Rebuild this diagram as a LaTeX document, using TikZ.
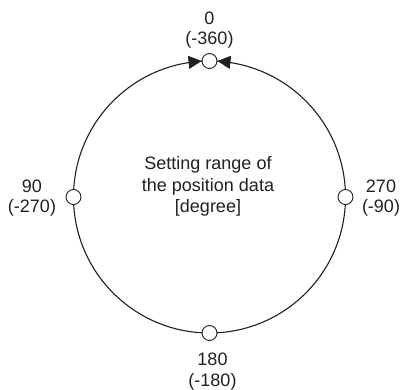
\documentclass[tikz,border=0pt]{standalone}
\usepackage{fontspec}
\setmainfont{Liberation Sans}
\usetikzlibrary{arrows.meta}
\definecolor{ink}{RGB}{35,31,32}
\begin{document}
\begin{tikzpicture}[x=1pt,y=-1pt,
  mark0/.style={circle,draw=ink,fill=white,line width=0.9pt,minimum size=15pt,inner sep=0pt},
  lbl/.style={align=center,text=ink,font=\fontsize{18}{20.5}\selectfont,inner sep=0pt},
  clbl/.style={align=center,text=ink,font=\fontsize{18}{21.5}\selectfont,inner sep=0pt},
  tri/.style={-{Triangle[length=13pt,width=13pt]},draw=ink,fill=ink,line width=0.8pt}]
\useasboundingbox (0,0) rectangle (402,390);
\draw[ink,line width=1.1pt] (209.5,197) circle[radius=136];
\node[mark0] (top) at (209.5,61) {};
\node[mark0] (bot) at (209.5,333) {};
\node[mark0] (lft) at (73.5,197) {};
\node[mark0] (rgt) at (345.5,197) {};
\coordinate (la) at (187,62.5);
\coordinate (ra) at (232,62.5);
\draw[tri] (la) -- (top.west);
\draw[tri] (ra) -- (top.east);
\node[lbl,anchor=base] (t0) at (209.5,45) {0\\(-360)};
\node[lbl,anchor=base] (l0) at (32,213) {90\\(-270)};
\node[lbl,anchor=base] (r0) at (381,213) {270\\(-90)};
\node[lbl,anchor=base] (b0) at (212.5,386) {180\\(-180)};
\node[clbl,anchor=base] (c0) at (208,213) {Setting range of\\the position data\\{[degree]}};
\end{tikzpicture}
\end{document}
